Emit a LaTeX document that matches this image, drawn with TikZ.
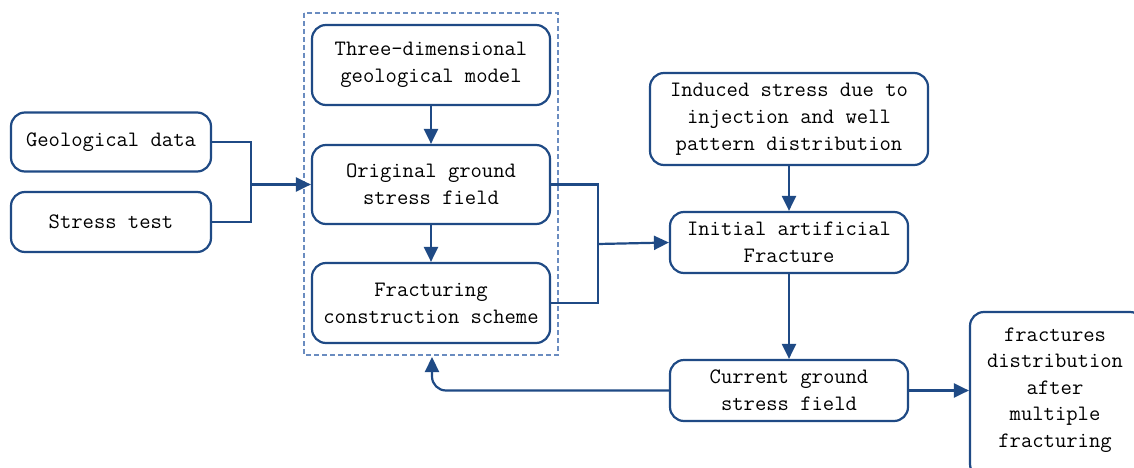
\documentclass[tikz,border=0pt]{standalone}
\usetikzlibrary{arrows.meta}
\definecolor{lineblue}{HTML}{1F4A85}
\definecolor{dashblue}{HTML}{6A8CC0}
\begin{document}
\begin{tikzpicture}[x=1pt,y=-1pt,
  box/.style={draw=lineblue,line width=2.2pt,rounded corners=14pt,fill=white,
    align=center,inner sep=0pt,font=\ttfamily\fontsize{22}{27}\selectfont},
  conn/.style={draw=lineblue,line width=2.2pt},
  arr/.style={conn,-{Triangle[length=15pt,width=14pt]}}]
\useasboundingbox (0,0) rectangle (1134,468);
\clip (0,0) rectangle (1134,468);
\fill[white] (0,0) rectangle (1134,468);
% dashed group
\draw[dashblue,line width=1.1pt,dash pattern=on 5pt off 3pt] (304,13) rectangle (558,355);
\coordinate (dashbot) at (432,357);
% nodes
\node[box,minimum width=200pt,minimum height=59pt] (geo) at (111,142) {Geological data};
\node[box,minimum width=200pt,minimum height=60pt] (st) at (111,222) {Stress test};
\node[box,minimum width=238pt,minimum height=80pt] (tdm) at (431,65) {Three-dimensional\\geological model};
\node[box,minimum width=238pt,minimum height=79pt] (ogs) at (431,184.5) {Original ground\\stress field};
\node[box,minimum width=238pt,minimum height=80pt] (fcs) at (431,303) {Fracturing\\construction scheme};
\node[box,minimum width=278pt,minimum height=92pt] (isd) at (789,119) {Induced stress due to\\injection and well\\pattern distribution};
\node[box,minimum width=238pt,minimum height=61pt] (iaf) at (789,242.5) {Initial artificial\\Fracture};
\node[box,minimum width=238pt,minimum height=61pt] (cgs) at (789,390.5) {Current ground\\stress field};
\node[box,minimum width=174pt,minimum height=166pt] (fd) at (1057,395) {};
\node[align=center,inner sep=0pt,font=\ttfamily\fontsize{22}{26.5}\selectfont] (fdt) at (1055,390) {fractures\\distribution\\after\\multiple\\fracturing};
% junctions
\coordinate (j1) at (251,184.5);
\coordinate (j2) at (598,244);
% connectors
\draw[conn] (geo.east) -| (j1);
\draw[conn] (st.east) -| (j1);
\draw[arr] (j1) -- (ogs.west);
\draw[arr] (tdm) -- (ogs);
\draw[arr] (ogs) -- (fcs);
\draw[conn] (ogs.east) -| (j2);
\draw[conn] (fcs.east) -| (j2);
\draw[arr] (j2) -- (iaf.west);
\draw[arr] (isd) -- (iaf);
\draw[arr] (iaf) -- (cgs);
\draw[arr] (cgs.east) -- (cgs.east -| fd.west);
\draw[arr,rounded corners=14pt] (cgs.west) -| (dashbot);
\end{tikzpicture}
\end{document}
